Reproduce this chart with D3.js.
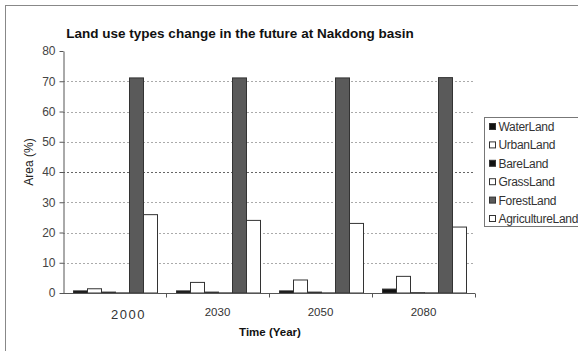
<!DOCTYPE html>
<html>
<head>
<meta charset="utf-8">
<script src="https://cdn.jsdelivr.net/npm/d3@7"></script>
<style>
  body { margin: 0; background: #fff; }
  text { font-family: "Liberation Sans", Arial, sans-serif; }
</style>
</head>
<body>
<div id="chart"></div>
<script>
const years = ["2000", "2030", "2050", "2080"];
const landTypes = ["WaterLand", "UrbanLand", "BareLand", "GrassLand", "ForestLand", "AgricultureLand"];
const waterLand = [0.7, 0.7, 0.7, 1.3];
const urbanLand = [1.4, 3.5, 4.3, 5.5];
const bareLand = [0.3, 0.3, 0.3, 0.1];
const grassLand = [0.05, 0.05, 0.05, 0.05];
const forestLand = [71.1, 71.1, 71.1, 71.2];
const agricultureLand = [25.9, 24, 23, 21.8];
const yTicks = [0, 10, 20, 30, 40, 50, 60, 70, 80];

const series = [waterLand, urbanLand, bareLand, grassLand, forestLand, agricultureLand];
const fills = ["#111", "#fff", "#111", "#fff", "#5a5a5a", "#fff"];

const width = 578, height = 351;
const margin = { top: 51, right: 103, bottom: 58, left: 63 };

const svg = d3.select("#chart").append("svg")
    .attr("width", width)
    .attr("height", height);

// outer frame (only top/left edges show in the crop)
svg.append("rect")
    .attr("x", 5.5).attr("y", 5.5)
    .attr("width", 700).attr("height", 500)
    .attr("fill", "none")
    .attr("stroke", "#888");

const x0 = d3.scaleBand()
    .domain(years)
    .range([margin.left, width - margin.right]);

const x1 = d3.scaleBand()
    .domain(landTypes)
    .range([10, x0.bandwidth() - 9]);

const y = d3.scaleLinear()
    .domain([0, 80])
    .range([height - margin.bottom, margin.top]);

// gridlines
svg.append("g")
    .selectAll("line")
    .data(yTicks.filter(d => d > 0 && d < 80))
    .join("line")
    .attr("x1", margin.left)
    .attr("x2", width - margin.right)
    .attr("y1", d => Math.round(y(d)) + 0.5)
    .attr("y2", d => Math.round(y(d)) + 0.5)
    .attr("stroke", d => d === 40 ? "#666" : "#aaa")
    .attr("stroke-dasharray", "2,2");

// bars
const groups = svg.append("g")
    .selectAll("g")
    .data(years)
    .join("g")
    .attr("transform", d => `translate(${x0(d)},0)`);

groups.selectAll("rect")
    .data((d, i) => landTypes.map((t, k) => ({ type: t, value: series[k][i], k })))
    .join("rect")
    .attr("x", d => x1(d.type) + 0.5)
    .attr("y", d => y(d.value))
    .attr("width", x1.bandwidth())
    .attr("height", d => y(0) - y(d.value))
    .attr("fill", d => fills[d.k])
    .attr("stroke", "#333")
    .attr("stroke-width", 1);

// y axis
const yAxis = svg.append("g")
    .attr("transform", `translate(${margin.left + 0.5},0)`)
    .call(d3.axisLeft(y).tickValues(yTicks).tickSize(4).tickSizeOuter(0).tickPadding(4));
yAxis.select(".domain").attr("stroke", "#555");
yAxis.selectAll(".tick line").attr("stroke", "#555");
yAxis.selectAll("text")
    .attr("fill", "#444")
    .style("font-size", "12px");

// x axis: ticks at category boundaries
const xAxis = svg.append("g")
    .attr("transform", `translate(0,${Math.round(y(0)) + 0.5})`);
xAxis.append("line")
    .attr("x1", margin.left)
    .attr("x2", width - margin.right)
    .attr("stroke", "#555");
xAxis.selectAll(".bnd")
    .data(years)
    .join("line")
    .attr("class", "bnd")
    .attr("x1", d => Math.round(x0(d) + x0.bandwidth()) + 0.5)
    .attr("x2", d => Math.round(x0(d) + x0.bandwidth()) + 0.5)
    .attr("y1", 0).attr("y2", 4)
    .attr("stroke", "#555");
xAxis.selectAll(".lbl")
    .data(years)
    .join("text")
    .attr("class", "lbl")
    .attr("x", (d, i) => x0(d) + x0.bandwidth() / 2 + (i === 0 ? 14 : 0))
    .attr("y", (d, i) => i === 0 ? 25 : 22)
    .attr("text-anchor", "middle")
    .attr("fill", "#333")
    .style("font-size", (d, i) => i === 0 ? "13px" : "11.5px")
    .style("letter-spacing", (d, i) => i === 0 ? "1.5px" : "0px")
    .text(d => d);

// titles
svg.append("text")
    .attr("x", 240)
    .attr("y", 38)
    .attr("text-anchor", "middle")
    .attr("fill", "#111")
    .style("font-size", "13.5px")
    .style("font-weight", "bold")
    .text("Land use types change in the future at Nakdong basin");

svg.append("text")
    .attr("transform", "translate(33,162) rotate(-90)")
    .attr("text-anchor", "middle")
    .attr("fill", "#222")
    .style("font-size", "12px")
    .text("Area (%)");

svg.append("text")
    .attr("x", 270)
    .attr("y", 336)
    .attr("text-anchor", "middle")
    .attr("fill", "#111")
    .style("font-size", "11.5px")
    .style("font-weight", "bold")
    .text("Time (Year)");

// legend
const legend = svg.append("g")
    .attr("transform", "translate(484.5,117.5)");
legend.append("rect")
    .attr("width", 120)
    .attr("height", 109)
    .attr("fill", "#fff")
    .attr("stroke", "#777");
const items = legend.selectAll(".item")
    .data(landTypes)
    .join("g")
    .attr("class", "item")
    .attr("transform", (d, i) => `translate(5,${9 + i * 18.4})`);
items.append("rect")
    .attr("x", 0)
    .attr("y", -3)
    .attr("width", 6)
    .attr("height", 6)
    .attr("fill", (d, i) => fills[i])
    .attr("stroke", "#333");
items.append("text")
    .attr("x", 9)
    .attr("y", 4.5)
    .attr("fill", "#333")
    .style("font-size", "12px")
    .style("letter-spacing", "-0.3px")
    .text(d => d);
</script>
</body>
</html>
